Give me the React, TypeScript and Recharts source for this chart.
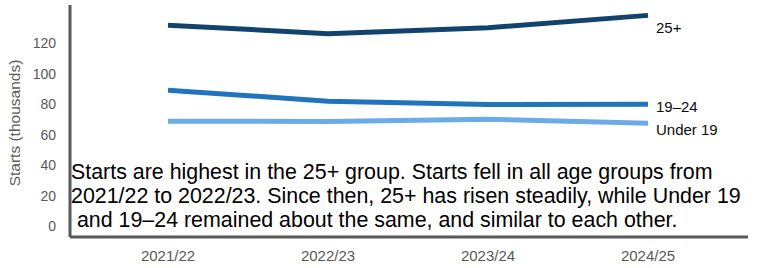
import React from "react";
import { LineChart, Line, XAxis, YAxis } from "recharts";

const years = ["2021/22", "2022/23", "2023/24", "2024/25"];
const over25 = [131.8, 126.2, 130.1, 138.2];
const age19to24 = [89.2, 82.0, 79.8, 80.0];
const under19 = [68.9, 68.7, 70.2, 67.5];
const yTicks = [0, 20, 40, 60, 80, 100, 120];

const note = [
  "Starts are highest in the 25+ group. Starts fell in all age groups from",
  "2021/22 to 2022/23. Since then, 25+ has risen steadily, while Under 19",
  " and 19\u201324 remained about the same, and similar to each other.",
];

const data = years.map((year, i) => ({
  year,
  over25: over25[i],
  age19to24: age19to24[i],
  under19: under19[i],
}));

const series = [
  { key: "over25", name: "25+", color: "#12436D", dy: 12 },
  { key: "age19to24", name: "19\u201324", color: "#2073BC", dy: 3 },
  { key: "under19", name: "Under 19", color: "#6BACE6", dy: 6 },
];

const FONT = "'Liberation Sans', Arial, sans-serif";

function endLabel(name: string, dy: number) {
  return (props: any) => {
    if (props.index !== years.length - 1) return null;
    return (
      <text
        x={props.x + 8}
        y={props.y + dy}
        dy="0.35em"
        fontSize={15}
        fontFamily={FONT}
        fill="#0b0c0c"
      >
        {name}
      </text>
    );
  };
}

function YLabel(props: any) {
  const vb = props.viewBox;
  const x = vb.x + 15;
  const y = vb.y + vb.height / 2 + 2;
  return (
    <text
      x={x}
      y={y}
      dy="0.35em"
      transform={`rotate(-90, ${x}, ${y})`}
      textAnchor="middle"
      fontSize={15.5}
      fontFamily={FONT}
      fill="#595959"
    >
      Starts (thousands)
    </text>
  );
}

export default function App() {
  return (
    <div style={{ position: "absolute", top: 0, left: 0, width: 761, height: 268, fontFamily: FONT }}>
      <LineChart
        width={761}
        height={268}
        data={data}
        margin={{ top: 5, right: 13, bottom: 0, left: 0 }}
      >
        <XAxis
          dataKey="year"
          padding={{ left: 98, right: 100 }}
          height={31}
          tickLine={false}
          tickSize={0}
          tickMargin={13}
          axisLine={{ stroke: "#595959", strokeWidth: 3 }}
          tick={{ fill: "#595959", fontSize: 15, fontFamily: FONT }}
        />
        <YAxis
          width={70}
          domain={[-7, 145]}
          ticks={yTicks}
          tickLine={false}
          tickSize={0}
          tickMargin={14}
          axisLine={{ stroke: "#595959", strokeWidth: 3 }}
          tick={{ fill: "#595959", fontSize: 14, fontFamily: FONT }}
          label={<YLabel />}
        />
        {series.map((s) => (
          <Line
            key={s.key}
            dataKey={s.key}
            name={s.name}
            stroke={s.color}
            strokeWidth={5}
            dot={false}
            activeDot={false}
            isAnimationActive={false}
            label={endLabel(s.name, s.dy)}
          />
        ))}
      </LineChart>
      <div
        style={{
          position: "absolute",
          left: 71,
          top: 160,
          fontSize: 21.4,
          lineHeight: "24px",
          whiteSpace: "pre",
          color: "#000",
        }}
      >
        {note.map((l, i) => (
          <div key={i}>{l}</div>
        ))}
      </div>
    </div>
  );
}
